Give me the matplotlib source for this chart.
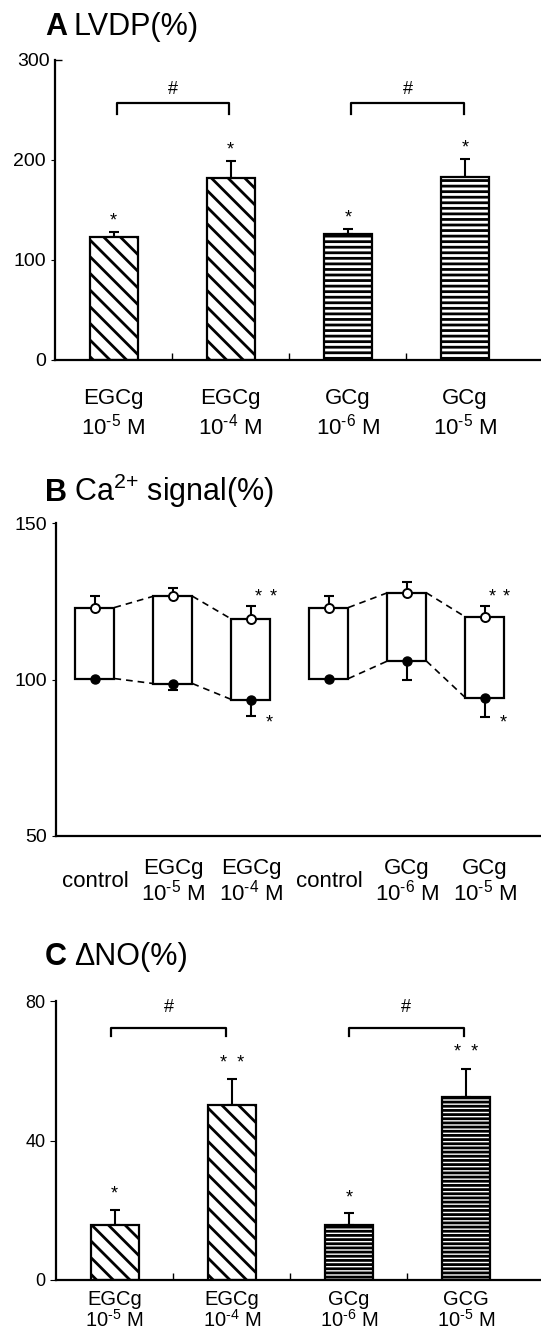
import matplotlib.pyplot as plt
import numpy as np

plt.rcParams['font.family'] = ['Liberation Sans', 'DejaVu Sans']
plt.rcParams['mathtext.fontset'] = 'custom'
plt.rcParams['mathtext.rm'] = 'Liberation Sans'
plt.rcParams['mathtext.it'] = 'Liberation Sans:italic'
plt.rcParams['mathtext.bf'] = 'Liberation Sans:bold'
plt.rcParams['hatch.linewidth'] = 2.0

# panel A: LVDP (%)
lvdp_labels = ['EGCg\n10$^{\\text{-5}}$ M', 'EGCg\n10$^{\\text{-4}}$ M',
               'GCg\n10$^{\\text{-6}}$ M', 'GCg\n10$^{\\text{-5}}$ M']
lvdp_mean = [123, 182, 126, 183]
lvdp_err = [5, 17, 5, 18]
lvdp_stars = ['*', '*', '*', '*']
lvdp_hatch = ['\\\\', '\\\\', '---', '---']

# panel B: Ca2+ signal (%) - systolic (open) and diastolic (filled)
ca_labels = ['control', 'EGCg\n10$^{\\text{-5}}$ M', 'EGCg\n10$^{\\text{-4}}$ M',
             'control', 'GCg\n10$^{\\text{-6}}$ M', 'GCg\n10$^{\\text{-5}}$ M']
ca_high = [123.0, 126.6, 119.3, 123.0, 127.7, 120.0]
ca_high_err = [3.6, 2.5, 4.2, 3.7, 3.5, 3.5]
ca_low = [100.3, 98.7, 93.6, 100.3, 105.9, 94.2]
ca_low_err = [0.0, 2.1, 5.3, 0.0, 5.9, 6.2]
ca_groups = [[0, 1, 2], [3, 4, 5]]

# panel C: delta NO (%)
no_labels = ['EGCg\n10$^{\\text{-5}}$ M', 'EGCg\n10$^{\\text{-4}}$ M',
             'GCg\n10$^{\\text{-6}}$ M', 'GCG\n10$^{\\text{-5}}$ M']
no_mean = [15.8, 50.1, 15.8, 52.5]
no_err = [4.3, 7.5, 3.3, 8.1]
no_stars = ['*', '*  *', '*', '*  *']
no_hatch = ['\\\\', '\\\\', '----', '----']

W, H = 541, 1330
fig = plt.figure(figsize=(W / 100, H / 100), dpi=100)


def px_axes(left, top, right, bottom):
    return fig.add_axes([left / W, 1 - bottom / H, (right - left) / W, (bottom - top) / H])


def title(y, letter, rest, fs):
    fig.text(45 / W, 1 - y / H, letter, fontsize=fs, fontweight='bold', va='baseline')
    fig.text(74 / W, 1 - y / H, rest, fontsize=fs, va='baseline')


def style(ax):
    for s in ['top', 'right']:
        ax.spines[s].set_visible(False)
    for s in ['left', 'bottom']:
        ax.spines[s].set_linewidth(1.6)


def bracket(ax, x0, x1, y, drop, label_y):
    ax.plot([x0, x0, x1, x1], [y - drop, y, y, y - drop], color='black', lw=1.6)
    ax.text((x0 + x1) / 2, label_y, '#', ha='center', va='center', fontsize=13)


def bar_panel(ax, labels, mean, err, stars, hatches, star_off, fs):
    x = np.arange(len(mean))
    ax.bar(x, mean, width=0.41, color='white', edgecolor='black', linewidth=1.6,
           hatch=hatches, zorder=2)
    ax.errorbar(x, mean, yerr=[np.zeros(len(err)), err], fmt='none', ecolor='black',
                elinewidth=1.5, capsize=3.5, capthick=1.5, zorder=1)
    for xi, m, e, s in zip(x, mean, err, stars):
        ax.text(xi, m + e + star_off, s, ha='center', va='center', fontsize=13)
    ax.set_xticks(x)
    ax.set_xticklabels(labels, fontsize=fs)
    ax.set_xticks([0.5, 1.5, 2.5], minor=True)
    ax.tick_params(axis='x', which='major', length=0)
    ax.tick_params(axis='x', which='minor', direction='in', length=5, width=1)
    ax.set_xlim(-0.5, 3.65)
    style(ax)


# ---- A ----
axA = px_axes(55, 60, W, 360)
bar_panel(axA, lvdp_labels, lvdp_mean, lvdp_err, lvdp_stars, lvdp_hatch, 11, 16)
axA.set_ylim(0, 300)
axA.set_yticks([0, 100, 200])
axA.set_yticks([300], minor=True)
axA.set_yticklabels(['300'], minor=True, fontsize=14)
axA.tick_params(axis='y', which='major', direction='out', length=3, labelsize=14)
axA.tick_params(axis='y', which='minor', direction='in', length=5, width=1)
axA.tick_params(axis='x', which='major', pad=20)
for t in axA.get_xticklabels():
    t.set_linespacing(1.25)
bracket(axA, 0.03, 0.99, 257, 11, 270)
bracket(axA, 2.03, 2.99, 257, 11, 270)
title(35, 'A', 'LVDP(%)', 22)

# ---- B ----
axB = px_axes(56, 523, W, 836)
xb = np.arange(len(ca_high))
ca_high = np.array(ca_high)
ca_low = np.array(ca_low)
axB.bar(xb, ca_high - ca_low, bottom=ca_low, width=0.5, color='white',
        edgecolor='black', linewidth=1.6, zorder=2)
for g in ca_groups:
    for a, b in zip(g[:-1], g[1:]):
        axB.plot([a + 0.25, b - 0.25], [ca_high[a], ca_high[b]], ls=(0, (4, 3)),
                 color='black', lw=1.2)
        axB.plot([a + 0.25, b - 0.25], [ca_low[a], ca_low[b]], ls=(0, (4, 3)),
                 color='black', lw=1.2)
axB.errorbar(xb, ca_high, yerr=[np.zeros(len(xb)), ca_high_err], fmt='none',
             ecolor='black', elinewidth=1.5, capsize=3.5, capthick=1.5, zorder=3)
low_err = np.array(ca_low_err)
m = low_err > 0
axB.errorbar(xb[m], ca_low[m], yerr=[low_err[m], np.zeros(m.sum())], fmt='none',
             ecolor='black', elinewidth=1.5, capsize=3.5, capthick=1.5, zorder=3)
axB.plot(xb, ca_high, 'o', mfc='white', mec='black', ms=6.5, mew=1.4, zorder=4)
axB.plot(xb, ca_low, 'o', mfc='black', mec='black', ms=6.5, zorder=4)
for i in [2, 5]:
    axB.text(i + 0.09, 126.5, '*', ha='center', va='center', fontsize=13)
    axB.text(i + 0.28, 126.5, '*', ha='center', va='center', fontsize=13)
    axB.text(i + 0.24, 86, '*', ha='center', va='center', fontsize=13)
axB.set_ylim(50, 150)
axB.set_yticks([50, 100, 150])
axB.tick_params(axis='y', direction='out', length=3, labelsize=14)
axB.set_xlim(-0.5, 5.72)
axB.set_xticks(xb)
axB.set_xticklabels(ca_labels, fontsize=16, va='center')
axB.tick_params(axis='x', length=0, pad=33)
for t in axB.get_xticklabels():
    t.set_linespacing(1.05)
style(axB)
title(501, 'B', 'Ca$^{\\text{2+}}$ signal(%)', 22)

# ---- C ----
axC = px_axes(56, 1001, W, 1280)
bar_panel(axC, no_labels, no_mean, no_err, no_stars, no_hatch, 4.5, 14.5)
axC.set_ylim(0, 80)
axC.set_yticks([0, 40, 80])
axC.tick_params(axis='y', direction='out', length=4, labelsize=13)
axC.tick_params(axis='x', which='major', pad=7)
for t in axC.get_xticklabels():
    t.set_linespacing(1.0)
bracket(axC, -0.03, 0.95, 72.3, 2.2, 78)
bracket(axC, 2.0, 2.98, 72.3, 2.2, 78)
axC.set_xlim(-0.5, 3.64)
title(965, 'C', '\u0394NO(%)', 22)

fig.savefig('out.png', dpi=100)
